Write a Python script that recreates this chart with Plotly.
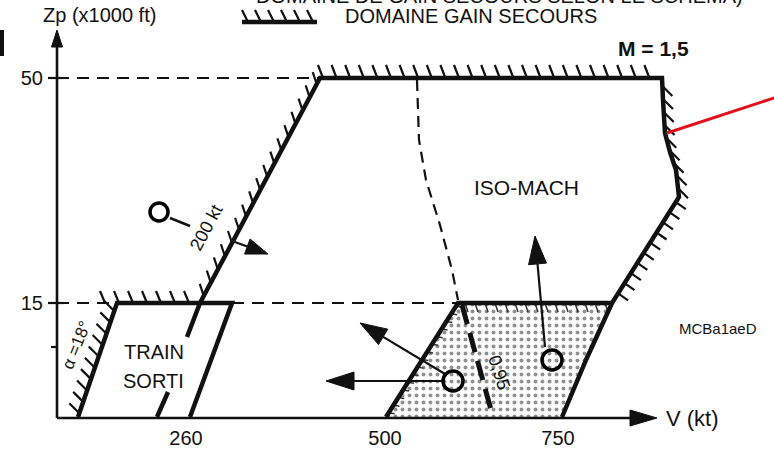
import math
import plotly.graph_objects as go

# ---------------- data (chart units) ----------------
V_TICKS = [186, 385, 558]
V_TICK_TEXT = ["260", "500", "750"]
ZP_TICKS = [78, 303]
ZP_TICK_TEXT = ["50", "15"]

# flight envelope: 200 kt limit + ceiling + M 1.5 limit + right limit
env_x = [187, 200, 320, 662, 663, 665, 670, 676, 679, 612, 586, 562]
env_y = [337, 303, 78, 78, 100, 133, 152, 170, 197, 303, 360, 417]
low200_x = [168, 157]
low200_y = [392, 417]

# "train sorti" domain
train_x = [78, 117, 232, 190]
train_y = [417, 303, 303, 417]

# backup gain domain (dotted)
gain_x = [458, 612, 586, 562, 386]
gain_y = [303, 303, 360, 417, 417]

# iso-Mach 0.95 line
m95_x = [417, 419, 426, 440, 452, 458]
m95_y = [80, 140, 180, 225, 270, 300]
m95_low_x = [462, 480, 493]
m95_low_y = [305, 372, 417]

# reference dashed levels
ref50_x = [57, 320]
ref15_x = [[57, 117], [232, 458]]

# circles (flight points) and arrows
circ_x = [159, 453, 552]
circ_y = [212, 381, 360]
arrows = [  # tail x, tail y, tip x, tip y, head length, head half width
    (232, 241, 268, 254, 22, 8),
    (443, 381, 326, 381, 28, 9),
    (445, 374, 360, 323, 27, 9),
    (545, 347, 535, 236, 28, 9),
]
red_x = [667, 780]
red_y = [133, 96]

INK = "#111111"
FONT = "Liberation Sans, Arial, sans-serif"


def hatch(xs, ys, spacing, vec, offset=0.0):
    hx, hy = [], []
    d_next = offset
    acc = 0.0
    for i in range(len(xs) - 1):
        x0, y0, x1, y1 = xs[i], ys[i], xs[i + 1], ys[i + 1]
        seg = math.hypot(x1 - x0, y1 - y0)
        while d_next <= acc + seg:
            t = (d_next - acc) / seg
            px, py = x0 + t * (x1 - x0), y0 + t * (y1 - y0)
            hx += [px, px + vec[0], None]
            hy += [py, py + vec[1], None]
            d_next += spacing
        acc += seg
    return hx, hy


fig = go.Figure()

# dotted gain domain
fig.add_trace(go.Scatter(
    x=gain_x + [gain_x[0]], y=gain_y + [gain_y[0]], mode="lines", fill="toself",
    fillcolor="white", line=dict(width=0),
    fillpattern=dict(shape=".", fgcolor="#222", bgcolor="white", size=7, solidity=0.25),
    hoverinfo="skip"))

# hatches (thick)
H = [
    hatch(env_x[1:3], env_y[1:3], 15, (-4, -12), 8),
    hatch(env_x[2:4], env_y[2:4], 13.6, (-5, -13), 3),
    hatch(env_x[3:9], env_y[3:9], 13, (10, 10), 8),
    hatch(env_x[8:10], env_y[8:10], 12, (10, 7), 6),
    hatch(train_x[0:2], train_y[0:2], 12, (-10, -10), 4),
    hatch([105, 200], [303, 303], 14, (-5, -12), 0),
    hatch([242, 317], [22, 22], 13, (-6, -12), 6),
]
hx, hy = [], []
for a, b in H:
    hx += a
    hy += b
fig.add_trace(go.Scatter(x=hx, y=hy, mode="lines", line=dict(color=INK, width=2.2), hoverinfo="skip"))

# hatches inside gain domain (thin)
H2 = [
    hatch([386, 458], [417, 303], 9, (6, 1), 5),
    hatch([462, 605], [303, 303], 10, (3, 9), 3),
]
hx, hy = [], []
for a, b in H2:
    hx += a
    hy += b
fig.add_trace(go.Scatter(x=hx, y=hy, mode="lines", line=dict(color="#333", width=1.5), hoverinfo="skip"))

# dashed reference levels
fig.add_trace(go.Scatter(x=ref50_x, y=[78, 78], mode="lines",
                         line=dict(color=INK, width=2, dash="12px,8px"), hoverinfo="skip"))
for seg in ref15_x:
    fig.add_trace(go.Scatter(x=seg, y=[303, 303], mode="lines",
                             line=dict(color=INK, width=2, dash="12px,8px"), hoverinfo="skip"))

# iso-Mach 0.95
fig.add_trace(go.Scatter(x=m95_x, y=m95_y, mode="lines",
                         line=dict(color=INK, width=2.2, dash="11px,7px"), hoverinfo="skip"))
fig.add_trace(go.Scatter(x=m95_low_x, y=m95_low_y, mode="lines",
                         line=dict(color=INK, width=5, dash="20px,9px"), hoverinfo="skip"))

# thick boundaries
for xs, ys in [(env_x, env_y), (low200_x, low200_y), (train_x, train_y),
               ([386, 458, 612], [417, 303, 303]), ([242, 317], [22, 22])]:
    fig.add_trace(go.Scatter(x=xs, y=ys, mode="lines",
                             line=dict(color=INK, width=4.5), hoverinfo="skip"))

# red pointer line
fig.add_trace(go.Scatter(x=red_x, y=red_y, mode="lines",
                         line=dict(color="#e3101c", width=3), hoverinfo="skip"))


def arrow(x0, y0, x1, y1, L, W, width=2.2):
    dx, dy = x1 - x0, y1 - y0
    n = math.hypot(dx, dy)
    ux, uy = dx / n, dy / n
    bx, by = x1 - L * ux, y1 - L * uy
    px, py = -uy, ux
    fig.add_trace(go.Scatter(x=[x0, bx], y=[y0, by], mode="lines",
                             line=dict(color=INK, width=width), hoverinfo="skip"))
    fig.add_trace(go.Scatter(x=[x1, bx + W * px, bx - W * px, x1],
                             y=[y1, by + W * py, by - W * py, y1],
                             mode="lines", fill="toself", fillcolor=INK,
                             line=dict(color=INK, width=1), hoverinfo="skip"))


for a in arrows:
    arrow(*a)

# axes with arrow heads
arrow(57, 418, 57, 30, 17, 5.5, width=2.6)
arrow(57, 418, 657, 418, 27, 8, width=2.6)

# y ticks
tx, ty = [], []
for v in ZP_TICKS:
    tx += [48, 64, None]
    ty += [v, v, None]
tx += [51, 57, None]
ty += [347, 347, None]
fig.add_trace(go.Scatter(x=tx, y=ty, mode="lines", line=dict(color=INK, width=2.2), hoverinfo="skip"))

# scan mark on the left
fig.add_trace(go.Scatter(x=[2, 2], y=[30, 56], mode="lines", line=dict(color=INK, width=4), hoverinfo="skip"))

# tail of first circle
fig.add_trace(go.Scatter(x=[170, 190], y=[218, 226], mode="lines",
                         line=dict(color=INK, width=2.5), hoverinfo="skip"))

# circles
fig.add_trace(go.Scatter(x=circ_x, y=circ_y, mode="markers",
                         marker=dict(symbol="circle-open", size=[18, 20, 20], color="black",
                                     opacity=1, line=dict(width=3.5, color="black")),
                         hoverinfo="skip"))


def txt(x, y, s, size=18, angle=0, xanchor="center", yanchor="middle", bold=False):
    fig.add_annotation(x=x, y=y, text=f"<b>{s}</b>" if bold else s, showarrow=False,
                       textangle=angle, xanchor=xanchor, yanchor=yanchor,
                       font=dict(family=FONT, size=size, color=INK))


txt(745, 9, "DOMAINE DE GAIN SECOURS SELON LE SCHEMA)", 20, xanchor="right", yanchor="bottom")
txt(99, 15, "Zp (x1000 ft)", 20)
txt(343, 16, "DOMAINE GAIN SECOURS", 20, xanchor="left")
txt(653, 48, "M = 1,5", 21, bold=True)
txt(526, 187, "ISO-MACH", 21)
txt(154, 352, "TRAIN", 20)
txt(153, 381, "SORTI", 20)
txt(718, 328, "MCBa1aeD", 15)
txt(664, 418, "V (kt)", 22, xanchor="left")
txt(206, 228, "200 kt", 18, angle=-62)
txt(499, 372, "0,95", 18, angle=72)
txt(76, 345, "α =18°", 17, angle=-68)

fig.update_layout(
    width=774, height=450, margin=dict(l=0, r=0, t=0, b=0),
    paper_bgcolor="white", plot_bgcolor="white", showlegend=False, hovermode=False,
    xaxis=dict(range=[0, 774], domain=[0, 1], anchor="free", position=(450 - 418) / 450,
               tickvals=V_TICKS, ticktext=V_TICK_TEXT, ticks="", showgrid=False,
               zeroline=False, showline=False, ticklabelstandoff=6, fixedrange=True,
               tickfont=dict(family=FONT, size=20, color=INK)),
    yaxis=dict(range=[450, 0], domain=[0, 1], anchor="free", position=57 / 774,
               tickvals=ZP_TICKS, ticktext=ZP_TICK_TEXT, ticks="", showgrid=False,
               zeroline=False, showline=False, ticklabelstandoff=14, fixedrange=True,
               tickfont=dict(family=FONT, size=20, color=INK)),
)

fig.write_html("out.html", config={"displayModeBar": False, "staticPlot": True},
               post_script="document.body.style.margin='0px';")
